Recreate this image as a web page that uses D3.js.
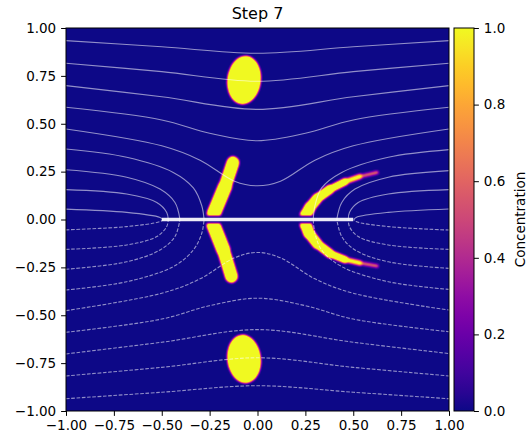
<!DOCTYPE html>
<html>
<head>
<meta charset="utf-8">
<script src="https://cdn.jsdelivr.net/npm/d3@7"></script>
<style>
  body { margin: 0; background: #fff; }
  svg { display: block; font-family: "DejaVu Sans", sans-serif; }
</style>
</head>
<body>
<svg id="chart" width="530" height="438"></svg>
<script>
// ---- data ----
var titleText = "Step 7";
var cbarLabel = "Concentration";
var axisTicks = [-1, -0.75, -0.5, -0.25, 0, 0.25, 0.5, 0.75, 1];
var cbarTicks = [0, 0.2, 0.4, 0.6, 0.8, 1];
var plate = [[-0.5, 0], [0.5, 0]];

// ellipse blobs: centre x, centre y, radius x, radius y, tilt (deg), concentration
var blobs = [
  [-0.070, 0.728, 0.086, 0.125, 7, 1],
  [-0.070, -0.728, 0.086, 0.125, -7, 1]
];

// streaks: centre line points [x, y, half width, concentration]
var streakUpLeft = [[-0.232, 0.0, 0.032, 1], [-0.227, 0.034, 0.034, 1], [-0.170, 0.171, 0.036, 1], [-0.128, 0.297, 0.027, 1]];
var streakLowLeft = [[-0.232, 0.0, 0.032, 1], [-0.230, -0.029, 0.033, 1], [-0.178, -0.159, 0.036, 1], [-0.136, -0.297, 0.027, 1]];
var streakUpRight = [[0.248, 0.0, 0.030, 1], [0.253, 0.024, 0.029, 1], [0.274, 0.063, 0.027, 1], [0.313, 0.111, 0.024, 1],
  [0.379, 0.158, 0.020, 1], [0.457, 0.197, 0.015, 0.9], [0.535, 0.225, 0.010, 0.6], [0.624, 0.245, 0.006, 0.3]];
var streakLowRight = [[0.248, 0.0, 0.030, 1], [0.253, -0.029, 0.029, 1], [0.269, -0.072, 0.027, 1], [0.313, -0.128, 0.024, 1],
  [0.379, -0.178, 0.020, 1], [0.457, -0.209, 0.015, 0.9], [0.535, -0.227, 0.010, 0.6], [0.624, -0.243, 0.006, 0.3]];
var streaks = [streakUpLeft, streakLowLeft, streakUpRight, streakLowRight];
var plateGap = 0.022;

// stream function contours, positive (solid) above, negative (dashed) below
var linesPos = [
  [[-1, 0.934], [-0.5, 0.902], [0, 0.868], [0.5, 0.902], [1, 0.934]],
  [[-1, 0.816], [-0.5, 0.772], [0, 0.722], [0.5, 0.772], [1, 0.816]],
  [[-1, 0.699], [-0.5, 0.641], [0, 0.575], [0.5, 0.641], [1, 0.699]],
  [[-1, 0.586], [-0.5, 0.52], [-0.25, 0.45], [0, 0.411], [0.25, 0.45], [0.5, 0.52], [1, 0.586]],
  [[-1, 0.473], [-0.5, 0.385], [-0.3, 0.31], [-0.12, 0.2], [0, 0.176], [0.12, 0.2], [0.3, 0.31], [0.5, 0.385], [1, 0.473]],
  [[-1, 0.368], [-0.683, 0.325], [-0.44, 0.246], [-0.335, 0.165], [-0.291, 0.072], [-0.279, 0]],
  [[-1, 0.26], [-0.683, 0.221], [-0.509, 0.159], [-0.431, 0.089], [-0.405, 0]],
  [[-1, 0.156], [-0.683, 0.133], [-0.526, 0.089], [-0.474, 0.037], [-0.466, 0]],
  [[-1, 0.054], [-0.683, 0.037], [-0.509, 0.011], [-0.492, 0]],
  [[1, 0.365], [0.683, 0.325], [0.44, 0.246], [0.335, 0.165], [0.30, 0.072], [0.291, 0]],
  [[1, 0.255], [0.683, 0.221], [0.509, 0.159], [0.44, 0.089], [0.414, 0]],
  [[1, 0.156], [0.683, 0.133], [0.526, 0.089], [0.48, 0.037], [0.474, 0]],
  [[1, 0.055], [0.683, 0.037], [0.515, 0.011], [0.503, 0]]
];
var linesNeg = [
  [[-1, -0.936], [-0.5, -0.902], [0, -0.868], [0.5, -0.902], [1, -0.936]],
  [[-1, -0.817], [-0.5, -0.772], [0, -0.722], [0.5, -0.772], [1, -0.817]],
  [[-1, -0.702], [-0.5, -0.641], [0, -0.575], [0.5, -0.641], [1, -0.700]],
  [[-1, -0.589], [-0.5, -0.52], [-0.25, -0.45], [0, -0.411], [0.25, -0.45], [0.5, -0.52], [1, -0.586]],
  [[-1, -0.476], [-0.5, -0.385], [-0.3, -0.31], [-0.12, -0.2], [0, -0.172], [0.12, -0.2], [0.3, -0.31], [0.5, -0.385], [1, -0.473]],
  [[-1, -0.368], [-0.683, -0.325], [-0.44, -0.246], [-0.335, -0.159], [-0.291, -0.072], [-0.279, 0]],
  [[-1, -0.26], [-0.683, -0.221], [-0.509, -0.159], [-0.431, -0.089], [-0.405, 0]],
  [[-1, -0.156], [-0.683, -0.133], [-0.526, -0.089], [-0.474, -0.037], [-0.466, 0]],
  [[-1, -0.054], [-0.683, -0.037], [-0.509, -0.011], [-0.492, 0]],
  [[1, -0.365], [0.683, -0.325], [0.44, -0.246], [0.335, -0.159], [0.30, -0.072], [0.291, 0]],
  [[1, -0.255], [0.683, -0.221], [0.509, -0.159], [0.44, -0.089], [0.414, 0]],
  [[1, -0.156], [0.683, -0.133], [0.526, -0.089], [0.48, -0.037], [0.474, 0]],
  [[1, -0.055], [0.683, -0.037], [0.515, -0.011], [0.503, 0]]
];

// ---- layout ----
var svg = d3.select("#chart");
var plotL = 66, plotR = 449, plotT = 28, plotB = 411;
var cbL = 454, cbW = 20;

var x = d3.scaleLinear().domain([-1, 1]).range([plotL, plotR]);
var y = d3.scaleLinear().domain([-1, 1]).range([plotB, plotT]);
var c = d3.scaleLinear().domain([0, 1]).range([plotB, plotT]);
var unit = x(1) - x(0);

// ---- concentration field on a canvas ----
var W = plotR - plotL, H = plotB - plotT;
var src = document.createElement("canvas");
src.width = W; src.height = H;
var g = src.getContext("2d");
g.fillStyle = "#000";
g.fillRect(0, 0, W, H);
g.translate(-plotL, -plotT);
g.globalCompositeOperation = "lighten";

function grey(v) {
  var k = Math.round(Math.max(0, Math.min(1, v)) * 255);
  return "rgb(" + k + "," + k + "," + k + ")";
}

blobs.forEach(function (b) {
  g.save();
  g.translate(x(b[0]), y(b[1]));
  g.rotate(b[4] * Math.PI / 180);
  g.beginPath();
  g.ellipse(0, 0, b[2] * unit, b[3] * unit, 0, 0, 2 * Math.PI);
  g.fillStyle = grey(b[5]);
  g.fill();
  g.restore();
});

g.lineCap = "round";
streaks.forEach(function (s) {
  for (var i = 0; i < s.length - 1; i++) {
    var a = s[i], b = s[i + 1];
    g.beginPath();
    g.moveTo(x(a[0]), y(a[1]));
    g.lineTo(x(b[0]), y(b[1]));
    g.lineWidth = (a[2] + b[2]) * unit;
    g.strokeStyle = grey((a[3] + b[3]) / 2);
    g.stroke();
  }
});

g.globalCompositeOperation = "source-over";
g.fillStyle = "#000";
g.fillRect(x(plate[0][0]) - 2, y(plateGap), x(plate[1][0]) - x(plate[0][0]) + 4, y(-plateGap) - y(plateGap));

var out = document.createElement("canvas");
out.width = W; out.height = H;
var og = out.getContext("2d");
og.filter = "blur(0.9px)";
og.drawImage(src, 0, 0);
og.filter = "none";

// the field saturates above the colour limit, so the edge ramp is short
var lut = d3.range(256).map(function (i) { return d3.rgb(d3.interpolatePlasma(Math.min(1, 1.45 * i / 255))); });
var img = og.getImageData(0, 0, W, H);
for (var p = 0; p < img.data.length; p += 4) {
  var col = lut[img.data[p]];
  img.data[p] = col.r; img.data[p + 1] = col.g; img.data[p + 2] = col.b; img.data[p + 3] = 255;
}
og.putImageData(img, 0, 0);

svg.append("image")
  .attr("x", plotL).attr("y", plotT)
  .attr("width", W).attr("height", H)
  .attr("preserveAspectRatio", "none")
  .attr("href", out.toDataURL());

// ---- streamlines ----
var line = d3.line()
  .x(function (d) { return x(d[0]); })
  .y(function (d) { return y(d[1]); })
  .curve(d3.curveCatmullRom.alpha(0.5));

var stream = svg.append("g")
  .attr("fill", "none")
  .attr("stroke", "#fff")
  .attr("stroke-opacity", 0.55)
  .attr("stroke-width", 1.1);

stream.selectAll("path.pos").data(linesPos).enter().append("path")
  .attr("class", "pos")
  .attr("d", line);

stream.selectAll("path.neg").data(linesNeg).enter().append("path")
  .attr("class", "neg")
  .attr("stroke-dasharray", "3.7,1.6")
  .attr("d", line);

// plate
svg.append("path")
  .datum(plate)
  .attr("d", d3.line().x(function (d) { return x(d[0]); }).y(function (d) { return y(d[1]); }))
  .attr("stroke", "#fff")
  .attr("stroke-opacity", 0.92)
  .attr("stroke-width", 3.4);

// frame
svg.append("rect")
  .attr("x", plotL).attr("y", plotT)
  .attr("width", W).attr("height", H)
  .attr("fill", "none").attr("stroke", "#000").attr("stroke-width", 1);

// ---- axes ----
var fmt = d3.format(".2f");
var xAxis = svg.append("g")
  .attr("transform", "translate(0," + plotB + ")")
  .call(d3.axisBottom(x).tickValues(axisTicks).tickFormat(fmt).tickSize(4.9).tickPadding(4.9));
var yAxis = svg.append("g")
  .attr("transform", "translate(" + plotL + ",0)")
  .call(d3.axisLeft(y).tickValues(axisTicks).tickFormat(fmt).tickSize(4.9).tickPadding(4.9));

[xAxis, yAxis].forEach(function (a) {
  a.select(".domain").remove();
  a.selectAll("text").attr("font-size", "13.5px").attr("font-family", "DejaVu Sans").attr("fill", "#000");
  a.selectAll("line").attr("stroke", "#000");
});

// title
svg.append("text")
  .attr("x", (plotL + plotR) / 2).attr("y", 18.5)
  .attr("text-anchor", "middle")
  .attr("font-size", "16px")
  .text(titleText);

// ---- colorbar ----
var grad = svg.append("defs").append("linearGradient")
  .attr("id", "plasma")
  .attr("x1", 0).attr("y1", 1).attr("x2", 0).attr("y2", 0);
grad.selectAll("stop").data(d3.range(0, 1.0001, 0.05)).enter().append("stop")
  .attr("offset", function (d) { return d; })
  .attr("stop-color", function (d) { return d3.interpolatePlasma(d); });

svg.append("rect")
  .attr("x", cbL).attr("y", c(1))
  .attr("width", cbW).attr("height", c(0) - c(1))
  .attr("fill", "url(#plasma)")
  .attr("stroke", "#000").attr("stroke-width", 1);

var cAxis = svg.append("g")
  .attr("transform", "translate(" + (cbL + cbW) + ",0)")
  .call(d3.axisRight(c).tickValues(cbarTicks).tickFormat(d3.format(".1f")).tickSize(4.9).tickPadding(4.9));
cAxis.select(".domain").remove();
cAxis.selectAll("text").attr("font-size", "13.5px").attr("font-family", "DejaVu Sans").attr("fill", "#000");
cAxis.selectAll("line").attr("stroke", "#000");

svg.append("text")
  .attr("transform", "translate(525," + ((c(0) + c(1)) / 2) + ") rotate(-90)")
  .attr("text-anchor", "middle")
  .attr("font-size", "13.5px")
  .text(cbarLabel);
</script>
</body>
</html>
